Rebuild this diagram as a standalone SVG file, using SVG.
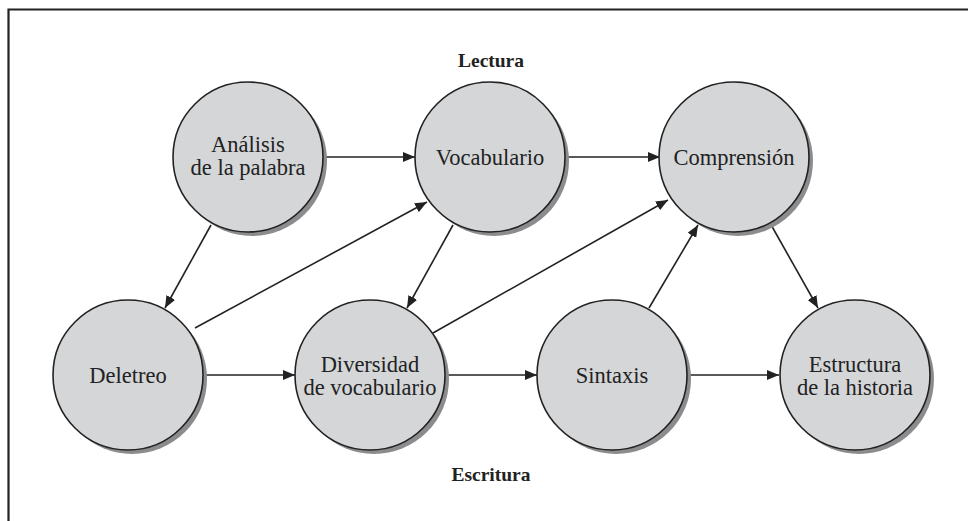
<svg xmlns="http://www.w3.org/2000/svg" width="968" height="521" viewBox="0 0 968 521">
<style>
.shadow{fill:#8c8c8e}
.node{fill:#d5d6d8;stroke:#222;stroke-width:1.6}
.t{font-family:"Liberation Serif","Times New Roman",serif;font-size:22.5px;fill:#222;text-anchor:middle}
.h{font-family:"Liberation Serif","Times New Roman",serif;font-size:19.5px;font-weight:bold;fill:#222;text-anchor:middle}
.c{stroke:#222;stroke-width:1.6;fill:none;marker-end:url(#ah)}
</style>
<defs>
<marker id="ah" viewBox="0 0 12 10" refX="12" refY="5" markerWidth="12" markerHeight="10" markerUnits="userSpaceOnUse" orient="auto">
<path d="M0,0 L12,5 L0,10 Z" fill="#222"/>
</marker>
</defs>
<rect width="968" height="521" fill="#fff"/>
<path d="M8.5,521 V9.5 H968" fill="none" stroke="#222" stroke-width="2.2"/>
<text class="h" x="491" y="67">Lectura</text>
<text class="h" x="491" y="481">Escritura</text>
<g id="connectors">
<line class="c" x1="324" y1="157" x2="415" y2="157"/>
<line class="c" x1="565" y1="157" x2="660" y2="157"/>
<line class="c" x1="211" y1="225" x2="165" y2="308"/>
<line class="c" x1="195" y1="328" x2="427" y2="202"/>
<line class="c" x1="453" y1="225" x2="407" y2="308"/>
<line class="c" x1="433" y1="333" x2="668" y2="200"/>
<line class="c" x1="649" y1="308" x2="698" y2="225"/>
<line class="c" x1="770" y1="223" x2="818" y2="308"/>
<line class="c" x1="203" y1="375" x2="295" y2="375"/>
<line class="c" x1="445" y1="375" x2="537" y2="375"/>
<line class="c" x1="688" y1="375" x2="779" y2="375"/>
</g>
<g id="analisis">
<circle class="shadow" cx="252" cy="161" r="75"/>
<circle class="node" cx="248" cy="157" r="75"/>
<text class="t" x="248" y="152">Análisis</text>
<text class="t" x="248" y="175">de la palabra</text>
</g>
<g id="vocabulario">
<circle class="shadow" cx="494" cy="161" r="75"/>
<circle class="node" cx="490" cy="157" r="75"/>
<text class="t" x="490" y="165">Vocabulario</text>
</g>
<g id="comprension">
<circle class="shadow" cx="738" cy="161" r="75"/>
<circle class="node" cx="734" cy="157" r="75"/>
<text class="t" x="734" y="165">Comprensión</text>
</g>
<g id="deletreo">
<circle class="shadow" cx="132" cy="379" r="75"/>
<circle class="node" cx="128" cy="375" r="75"/>
<text class="t" x="128" y="383">Deletreo</text>
</g>
<g id="diversidad">
<circle class="shadow" cx="374" cy="379" r="75"/>
<circle class="node" cx="370" cy="375" r="75"/>
<text class="t" x="370" y="372">Diversidad</text>
<text class="t" x="370" y="395">de vocabulario</text>
</g>
<g id="sintaxis">
<circle class="shadow" cx="616" cy="379" r="75"/>
<circle class="node" cx="612" cy="375" r="75"/>
<text class="t" x="612" y="383">Sintaxis</text>
</g>
<g id="estructura">
<circle class="shadow" cx="859" cy="379" r="75"/>
<circle class="node" cx="855" cy="375" r="75"/>
<text class="t" x="855" y="372">Estructura</text>
<text class="t" x="855" y="395">de la historia</text>
</g>
</svg>
